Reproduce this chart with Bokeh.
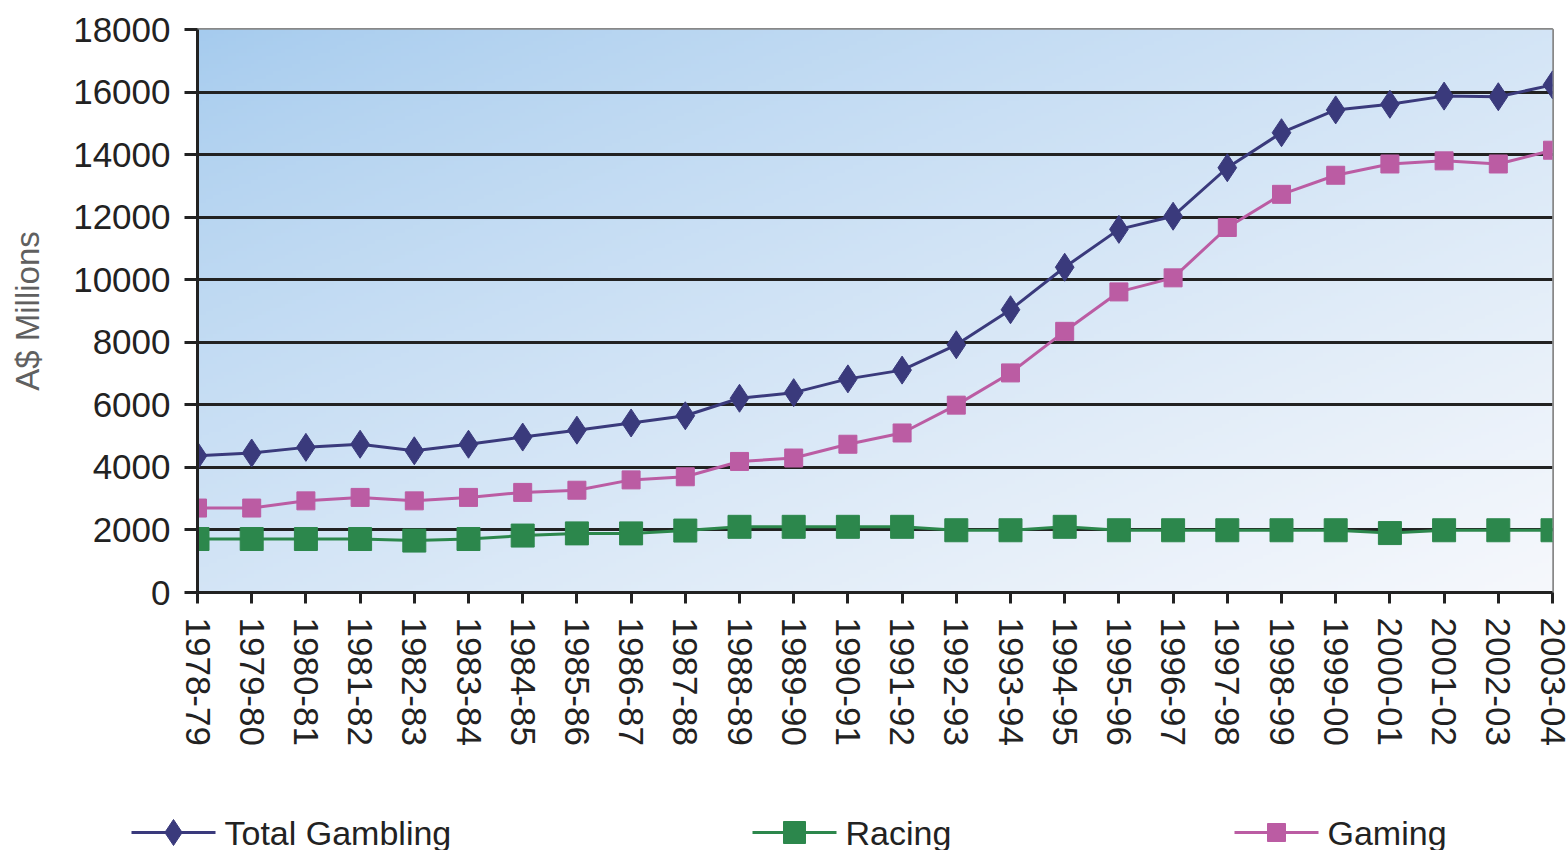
import numpy as np
from bokeh.plotting import figure
from bokeh.layouts import column
from bokeh.models import Range1d, FixedTicker
from bokeh.core.properties import value
from bokeh.embed import file_html
from bokeh.resources import INLINE

categories = ["1978-79", "1979-80", "1980-81", "1981-82", "1982-83", "1983-84",
              "1984-85", "1985-86", "1986-87", "1987-88", "1988-89", "1989-90",
              "1990-91", "1991-92", "1992-93", "1993-94", "1994-95", "1995-96",
              "1996-97", "1997-98", "1998-99", "1999-00", "2000-01", "2001-02",
              "2002-03", "2003-04"]
total_gambling = [4370, 4460, 4640, 4740, 4530, 4740, 4970, 5190, 5420, 5650,
                  6210, 6390, 6830, 7110, 7920, 9040, 10400, 11610, 12030, 13580,
                  14700, 15430, 15610, 15870, 15850, 16230]
racing = [1710, 1710, 1710, 1710, 1660, 1710, 1820, 1890, 1890, 1980,
          2100, 2100, 2100, 2100, 1990, 1990, 2100, 1990, 1990, 1990,
          1990, 1990, 1900, 1990, 1990, 1990]
gaming = [2700, 2700, 2930, 3040, 2930, 3040, 3200, 3270, 3600, 3700,
          4190, 4300, 4740, 5100, 5990, 7020, 8350, 9610, 10060, 11670,
          12730, 13340, 13700, 13800, 13700, 14140]
y_ticks = [0, 2000, 4000, 6000, 8000, 10000, 12000, 14000, 16000, 18000]
series_labels = ["Total Gambling", "Racing", "Gaming"]

NAVY = "#3a3a7c"
GREEN = "#2c874c"
PINK = "#bb5ca3"
TEXT = "#222222"
FONT = "Liberation Sans"

FIG_W = 1566
MAIN_H = 760
LEG_H = 90

x = list(range(len(categories)))
x_start, x_end = x[0], x[-1]
y_start, y_end = y_ticks[0], y_ticks[-1]

p = figure(width=FIG_W, height=MAIN_H, output_backend="svg", toolbar_location=None,
           x_range=Range1d(x_start, x_end), y_range=Range1d(y_start, y_end),
           min_border_left=197, min_border_right=14, min_border_top=29,
           min_border_bottom=168)
p.background_fill_color = "white"
p.border_fill_color = "white"
p.outline_line_color = "#888888"
p.outline_line_width = 3

# diagonal gradient background of the plot area
ny, nx = 150, 360
u = np.linspace(0, 1, nx)[None, :]
v = np.linspace(0, 1, ny)[:, None]
t = ((u + (1 - v)) / 2) ** 0.8
c0 = np.array([165, 203, 238], dtype=float)
c1 = np.array([246, 248, 252], dtype=float)
img = np.empty((ny, nx), dtype=np.uint32)
view = img.view(dtype=np.uint8).reshape((ny, nx, 4))
for k in range(3):
    view[:, :, k] = np.clip(c0[k] + (c1[k] - c0[k]) * t, 0, 255).astype(np.uint8)
view[:, :, 3] = 255
p.image_rgba(image=[img], x=x_start, y=y_start, dw=x_end - x_start,
             dh=y_end - y_start, level="image")

# grid
p.xgrid.visible = False
p.ygrid.ticker = FixedTicker(ticks=y_ticks[1:-1])
p.ygrid.grid_line_color = "#222222"
p.ygrid.grid_line_width = 3

# axes
for ax in (p.xaxis[0], p.yaxis[0]):
    ax.axis_line_color = "#222222"
    ax.axis_line_width = 3
    ax.major_tick_line_color = "#222222"
    ax.major_tick_line_width = 3
    ax.major_tick_in = 0
    ax.minor_tick_line_color = None
    ax.major_label_text_font = FONT
    ax.major_label_text_font_size = "35px"
    ax.major_label_text_color = TEXT

p.yaxis.ticker = FixedTicker(ticks=y_ticks)
p.yaxis.major_tick_out = 13
p.yaxis.major_label_standoff = 14
p.yaxis.axis_label = "A$ Millions"
p.yaxis.axis_label_text_font = FONT
p.yaxis.axis_label_text_font_size = "33px"
p.yaxis.axis_label_text_font_style = "normal"
p.yaxis.axis_label_text_color = "#606060"
p.yaxis.axis_label_standoff = 24

p.xaxis.ticker = FixedTicker(ticks=x)
p.xaxis.major_label_overrides = {i: c for i, c in zip(x, categories)}
p.xaxis.major_label_orientation = "vertical"
p.xaxis.major_tick_out = 11
p.xaxis.major_label_standoff = 14

# series
styles = [dict(color=NAVY, marker="diamond", size=28, leg_size=26),
          dict(color=GREEN, marker="square", size=23, leg_size=22),
          dict(color=PINK, marker="square", size=18, leg_size=18)]
for ys, st in zip([total_gambling, racing, gaming], styles):
    p.line(x, ys, line_color=st["color"], line_width=3)
    p.scatter(x, ys, marker=st["marker"], size=st["size"],
              fill_color=st["color"], line_color=st["color"])

# legend strip below the chart (pixel-unit ranges, frame = whole strip)
p2 = figure(width=FIG_W, height=LEG_H, output_backend="svg", toolbar_location=None,
            x_range=Range1d(0, FIG_W), y_range=Range1d(0, LEG_H),
            x_axis_type=None, y_axis_type=None, min_border=0)
p2.outline_line_color = None
p2.background_fill_color = "white"
p2.border_fill_color = "white"
for fig in (p, p2):
    if hasattr(fig, "frame_align"):
        fig.frame_align = False

LEG_X = [131, 752, 1234]      # left end of each legend sample line (px)
GLYPH_W = 84
LABEL_GAP = 9
LEG_CENTER = 832              # vertical centre of legend row (page px)
glyph_y = (MAIN_H + LEG_H) - LEG_CENTER

for lab, st, lx in zip(series_labels, styles, LEG_X):
    p2.line([lx, lx + GLYPH_W], [glyph_y, glyph_y], line_color=st["color"],
            line_width=3)
    p2.scatter([lx + GLYPH_W / 2], [glyph_y], marker=st["marker"],
               size=st["leg_size"], fill_color=st["color"], line_color=st["color"])
    p2.text([lx + GLYPH_W + LABEL_GAP], [glyph_y], text=[lab],
            text_font=value(FONT), text_font_size="34px", text_color=TEXT,
            text_align="left", text_baseline="middle")

open("out.html", "w").write(file_html(column(p, p2), INLINE))
